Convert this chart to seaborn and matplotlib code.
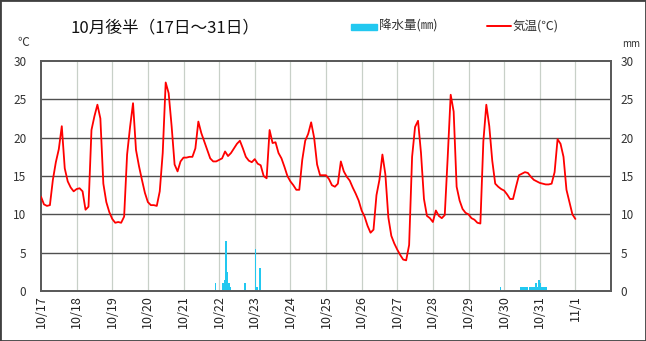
import matplotlib
matplotlib.use("Agg")
import matplotlib.pyplot as plt
from matplotlib.patches import Rectangle
from matplotlib.lines import Line2D
import pandas as pd
import seaborn as sns

# ---------------- data ----------------
title = "10月後半（17日～31日）"
legend_precip = "降水量(㎜)"
legend_temp = "気温(℃)"
unit_left = "℃"
unit_right = "mm"

temp_start = "2020-10-17 00:00"
temp_freq = "2h"
temp_1017 = [12.3, 11.3, 11.1, 11.2, 14.5, 16.8, 18.5, 21.5, 16.0, 14.3, 13.5, 13.0]
temp_1018 = [13.3, 13.4, 13.0, 10.6, 11.0, 21.0, 22.8, 24.3, 22.5, 14.0, 11.6, 10.3]
temp_1019 = [9.4, 8.9, 9.0, 8.9, 9.7, 17.8, 21.4, 24.5, 18.4, 16.3, 14.5, 12.8]
temp_1020 = [11.6, 11.2, 11.2, 11.1, 13.0, 18.0, 27.2, 25.8, 21.5, 16.5, 15.6, 16.9]
temp_1021 = [17.4, 17.4, 17.5, 17.5, 18.6, 22.1, 20.6, 19.5, 18.4, 17.3, 16.9, 16.9]
temp_1022 = [17.1, 17.3, 18.2, 17.6, 18.0, 18.6, 19.2, 19.6, 18.6, 17.5, 17.0, 16.8]
temp_1023 = [17.2, 16.6, 16.4, 15.0, 14.7, 21.0, 19.3, 19.4, 18.0, 17.3, 16.2, 15.0]
temp_1024 = [14.3, 13.8, 13.2, 13.2, 17.1, 19.6, 20.5, 22.0, 20.0, 16.5, 15.1, 15.1]
temp_1025 = [15.1, 14.6, 13.8, 13.6, 14.0, 16.9, 15.6, 14.9, 14.4, 13.5, 12.7, 11.8]
temp_1026 = [10.5, 9.7, 8.5, 7.6, 8.0, 12.5, 14.5, 17.8, 15.2, 9.6, 7.2, 6.2]
temp_1027 = [5.4, 4.7, 4.1, 4.0, 6.0, 17.5, 21.4, 22.2, 18.0, 12.0, 9.8, 9.5]
temp_1028 = [9.0, 10.5, 9.8, 9.5, 9.9, 17.5, 25.6, 23.4, 13.6, 11.8, 10.7, 10.2]
temp_1029 = [10.0, 9.5, 9.3, 8.9, 8.8, 19.5, 24.3, 21.5, 17.0, 14.0, 13.6, 13.3]
temp_1030 = [13.1, 12.6, 12.0, 12.0, 13.6, 15.1, 15.3, 15.5, 15.4, 14.9, 14.5, 14.3]
temp_1031 = [14.1, 14.0, 13.9, 13.9, 14.0, 15.5, 19.8, 19.2, 17.5, 13.2, 11.6, 10.0]
temp_1101 = [9.4]

# hourly precipitation (time = end of the hour)
precip_time = [
    "2020-10-21 22:00",
    "2020-10-22 03:00", "2020-10-22 04:00", "2020-10-22 05:00", "2020-10-22 06:00",
    "2020-10-22 07:00", "2020-10-22 08:00", "2020-10-22 18:00",
    "2020-10-23 01:00", "2020-10-23 02:00", "2020-10-23 04:00",
    "2020-10-29 22:00",
    "2020-10-30 12:00", "2020-10-30 13:00", "2020-10-30 14:00", "2020-10-30 15:00",
    "2020-10-30 16:00", "2020-10-30 18:00", "2020-10-30 19:00", "2020-10-30 20:00",
    "2020-10-30 21:00", "2020-10-30 22:00", "2020-10-30 23:00", "2020-10-31 00:00",
    "2020-10-31 01:00", "2020-10-31 02:00", "2020-10-31 03:00", "2020-10-31 04:00",
    "2020-10-31 05:00",
]
precip_mm = [
    1.0,
    1.0, 1.5, 6.5, 2.5,
    1.0, 0.5, 1.0,
    5.5, 0.5, 3.0,
    0.5,
    0.5, 0.5, 0.5, 0.5,
    0.5, 0.5, 0.5, 0.5,
    0.5, 1.0, 0.5, 1.5,
    1.0, 0.5, 0.5, 0.5,
    0.5,
]

day_labels = ["10/17", "10/18", "10/19", "10/20", "10/21", "10/22", "10/23", "10/24",
              "10/25", "10/26", "10/27", "10/28", "10/29", "10/30", "10/31", "11/1"]
y_ticks = [0, 5, 10, 15, 20, 25, 30]

# ---------------- figure ----------------
sns.set_style("white")
plt.rcParams['font.family'] = ['Noto Sans CJK JP', 'DejaVu Sans']

W, H = 646, 341
fig = plt.figure(figsize=(W / 100, H / 100), dpi=100)
L, R, T, B = 41, 611, 61, 291
ax = fig.add_axes([L / W, 1 - B / H, (R - L) / W, (B - T) / H])
ax2 = ax.twinx()

temps = (temp_1017 + temp_1018 + temp_1019 + temp_1020 + temp_1021 + temp_1022 +
         temp_1023 + temp_1024 + temp_1025 + temp_1026 + temp_1027 + temp_1028 +
         temp_1029 + temp_1030 + temp_1031 + temp_1101)
df_t = pd.DataFrame({"time": pd.date_range(temp_start, periods=len(temps), freq=temp_freq),
                     "temp": temps})
df_p = pd.DataFrame({"time": pd.to_datetime(precip_time), "mm": precip_mm})

# precipitation bars (each bar covers the hour ending at its time)
ax2.bar(df_p["time"] - pd.Timedelta(minutes=30), df_p["mm"], width=1 / 24,
        color="#22c8f0", linewidth=0, zorder=2)

sns.lineplot(data=df_t, x="time", y="temp", ax=ax, color="#ff0000", linewidth=1.3, zorder=5)
ax.set_zorder(ax2.get_zorder() + 1)
ax.patch.set_visible(False)

day_ticks = pd.date_range("2020-10-17", periods=len(day_labels), freq="D")
for a in (ax, ax2):
    a.set_xlim(pd.Timestamp("2020-10-17"), pd.Timestamp("2020-11-02"))
    a.set_ylim(0, 30)
    a.set_yticks(y_ticks)
    a.set_ylabel("")
    for s in a.spines.values():
        s.set_color("#5a5a5a")
        s.set_linewidth(1.3)

ax.set_xlabel("")
ax.set_xticks(day_ticks)
ax.set_xticklabels(day_labels, rotation=90, va="top", ha="center", fontsize=9, color="#222222")
ax.tick_params(axis="x", length=0, pad=3)
ax.tick_params(axis="y", length=0, pad=10.5, labelsize=8.5, labelcolor="#333333")
ax2.tick_params(axis="y", length=0, pad=7, labelsize=8.5, labelcolor="#333333")

ax2.grid(False)
ax.grid(False)
for d in day_ticks[1:]:
    ax2.axvline(d, color="#c8d0c8", linewidth=0.9, zorder=0)
for v in y_ticks[1:-1]:
    ax2.axhline(v, color="#505050", linewidth=1.0, zorder=1)

# ---------------- texts / legend ----------------
fig.text(70 / W, 1 - 27.7 / H, title, fontsize=12, va="center", ha="left", color="#111111")
fig.patches.append(Rectangle((351 / W, 1 - 29.5 / H), 26 / W, 6 / H,
                             transform=fig.transFigure, color="#22c8f0"))
fig.text(379 / W, 1 - 26 / H, legend_precip, fontsize=9, va="center", ha="left", color="#333333")
fig.lines.append(Line2D([487 / W, 511 / W], [1 - 25.7 / H] * 2, transform=fig.transFigure,
                        color="#ff0000", linewidth=1.4))
fig.text(513 / W, 1 - 26 / H, legend_temp, fontsize=9, va="center", ha="left", color="#333333")
fig.text(23 / W, 1 - 42.7 / H, unit_left, fontsize=8.5, va="center", ha="center", color="#333333")
fig.text(631 / W, 1 - 44 / H, unit_right, fontsize=7, va="center", ha="center", color="#333333")

fig.patches.append(Rectangle((0, 0), 1, 1, transform=fig.transFigure, fill=False,
                             edgecolor="#404040", linewidth=2))

fig.savefig("out.png", dpi=100)
